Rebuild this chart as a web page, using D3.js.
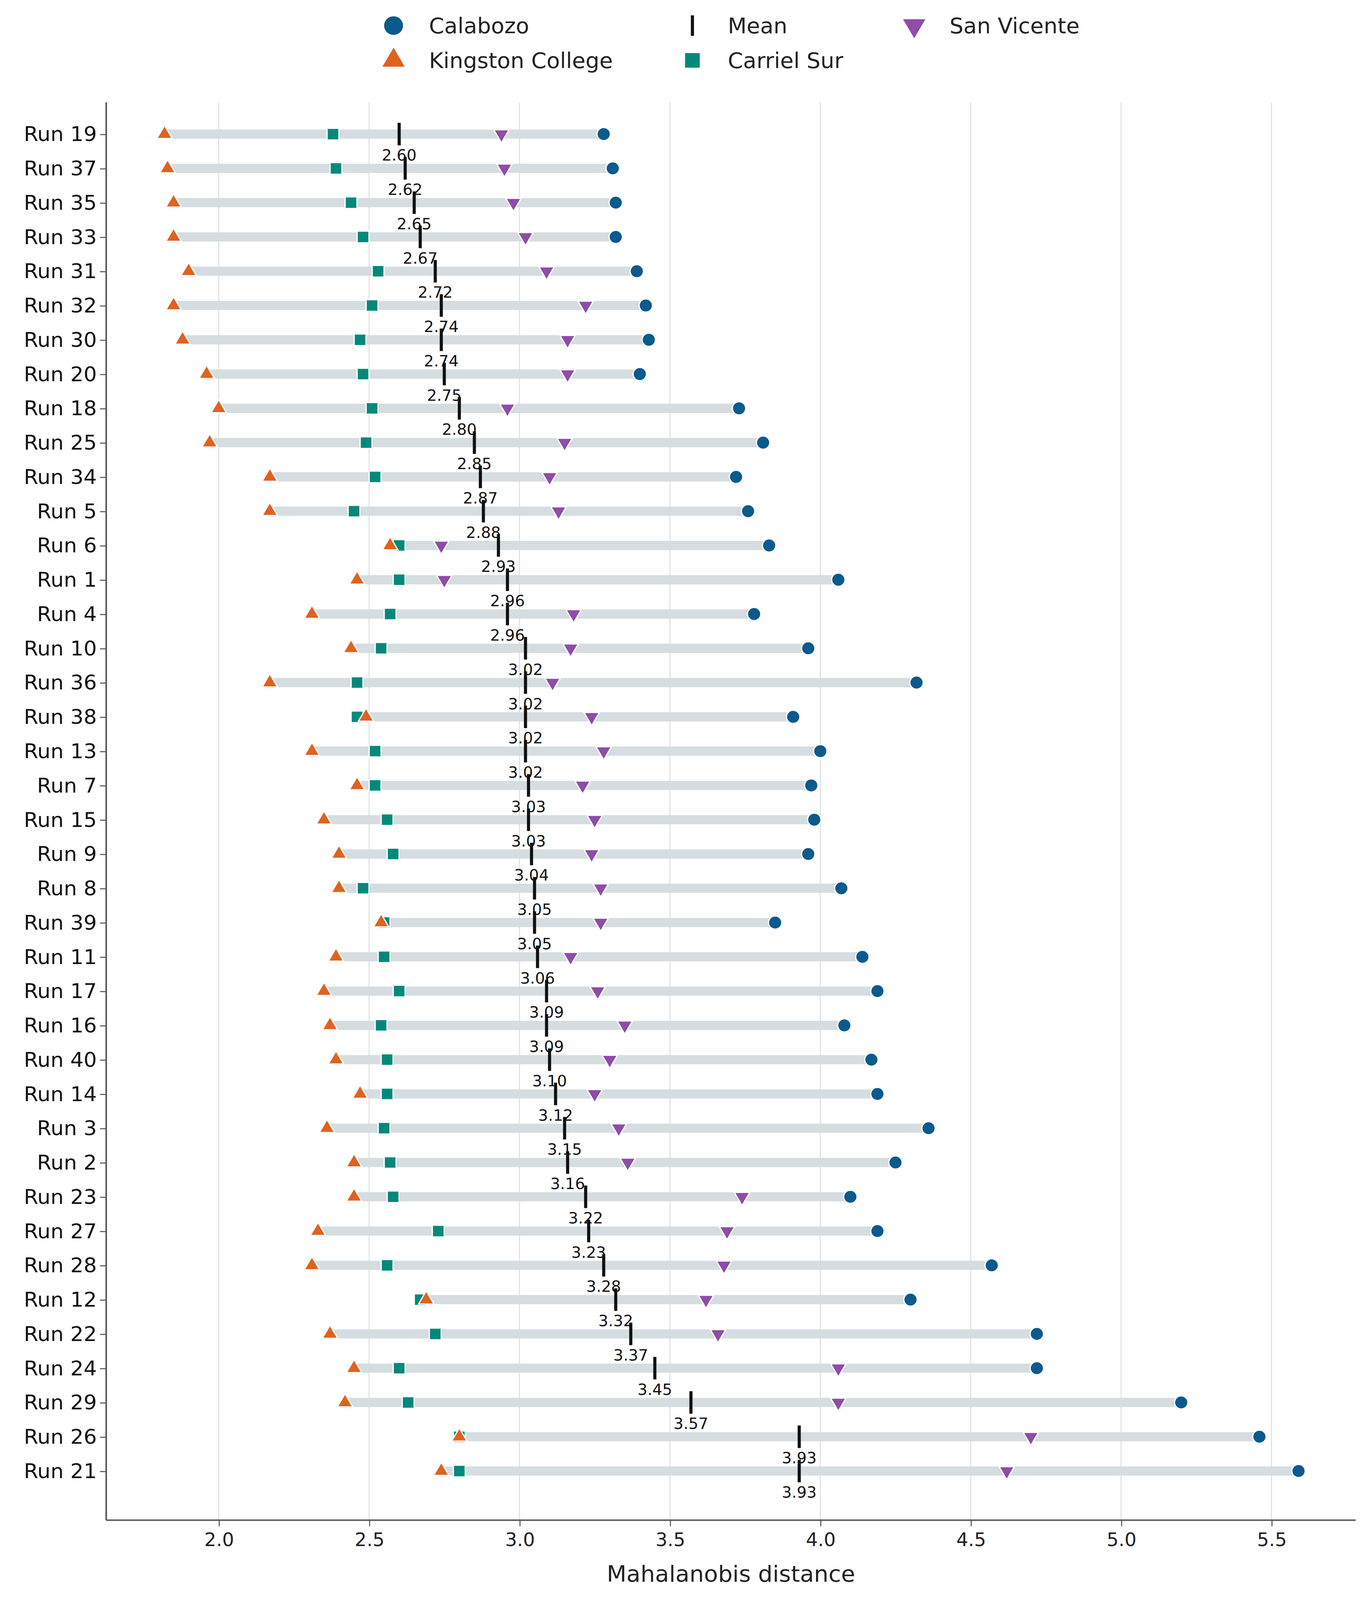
<!DOCTYPE html>
<html><head><meta charset="utf-8">
<script src="https://cdn.jsdelivr.net/npm/d3@7"></script>
<style>html,body{margin:0;background:#fff;overflow:hidden}svg{display:block;font-family:"DejaVu Sans",sans-serif;width:100vw;height:100vh}</style>
</head><body><div id="chart"></div>
<script>
var runs = ['Run 19','Run 37','Run 35','Run 33','Run 31','Run 32','Run 30','Run 20','Run 18','Run 25','Run 34','Run 5','Run 6','Run 1','Run 4','Run 10','Run 36','Run 38','Run 13','Run 7','Run 15','Run 9','Run 8','Run 39','Run 11','Run 17','Run 16','Run 40','Run 14','Run 3','Run 2','Run 23','Run 27','Run 28','Run 12','Run 22','Run 24','Run 29','Run 26','Run 21'];
var kingston = [1.82,1.83,1.85,1.85,1.90,1.85,1.88,1.96,2.00,1.97,2.17,2.17,2.57,2.46,2.31,2.44,2.17,2.49,2.31,2.46,2.35,2.40,2.40,2.54,2.39,2.35,2.37,2.39,2.47,2.36,2.45,2.45,2.33,2.31,2.69,2.37,2.45,2.42,2.80,2.74];
var carriel = [2.38,2.39,2.44,2.48,2.53,2.51,2.47,2.48,2.51,2.49,2.52,2.45,2.60,2.60,2.57,2.54,2.46,2.46,2.52,2.52,2.56,2.58,2.48,2.55,2.55,2.60,2.54,2.56,2.56,2.55,2.57,2.58,2.73,2.56,2.67,2.72,2.60,2.63,2.80,2.80];
var sanVicente = [2.94,2.95,2.98,3.02,3.09,3.22,3.16,3.16,2.96,3.15,3.10,3.13,2.74,2.75,3.18,3.17,3.11,3.24,3.28,3.21,3.25,3.24,3.27,3.27,3.17,3.26,3.35,3.30,3.25,3.33,3.36,3.74,3.69,3.68,3.62,3.66,4.06,4.06,4.70,4.62];
var calabozo = [3.28,3.31,3.32,3.32,3.39,3.42,3.43,3.40,3.73,3.81,3.72,3.76,3.83,4.06,3.78,3.96,4.32,3.91,4.00,3.97,3.98,3.96,4.07,3.85,4.14,4.19,4.08,4.17,4.19,4.36,4.25,4.10,4.19,4.57,4.30,4.72,4.72,5.20,5.46,5.59];
var means = [2.60,2.62,2.65,2.67,2.72,2.74,2.74,2.75,2.80,2.85,2.87,2.88,2.93,2.96,2.96,3.02,3.02,3.02,3.02,3.03,3.03,3.04,3.05,3.05,3.06,3.09,3.09,3.10,3.12,3.15,3.16,3.22,3.23,3.28,3.32,3.37,3.45,3.57,3.93,3.93];
var xTicks = [2.0,2.5,3.0,3.5,4.0,4.5,5.0,5.5];

var C = {cal:'#0b5a8e', king:'#e0621f', car:'#00897a', sv:'#8d4da8', bar:'#d5dde1'};
var W = 1310, H = 1563;
var svg = d3.select('#chart').append('svg')
  .attr('viewBox', '0 0 ' + W + ' ' + H).attr('preserveAspectRatio', 'none');

var x = d3.scaleLinear().domain([1.626, 5.78]).range([102, 1302]);
var y = d3.scalePoint().domain(runs).range([131, 1437]);

// grid
svg.append('g').selectAll('line').data(xTicks).join('line')
  .attr('x1', x).attr('x2', x).attr('y1', 100).attr('y2', 1485)
  .attr('stroke', '#dde0e3').attr('stroke-width', 1);

// axes
var xa = svg.append('g').attr('transform', 'translate(0,1485)')
  .call(d3.axisBottom(x).tickValues(xTicks).tickFormat(d3.format('.1f')).tickSize(6));
xa.selectAll('text').attr('font-size', 18).attr('fill', '#222').attr('dy', '0.9em');
var ya = svg.append('g').attr('transform', 'translate(102,0)')
  .call(d3.axisLeft(y).tickSize(6));
ya.selectAll('text').attr('font-size', 20).attr('fill', '#111');
[xa, ya].forEach(function(a) {
  a.attr('font-family', '"DejaVu Sans", sans-serif');
  a.select('.domain').attr('stroke', '#555').attr('stroke-width', 1.5);
  a.selectAll('.tick line').attr('stroke', '#555');
});
xa.select('.domain').attr('d', 'M102,0H1302');
ya.select('.domain').attr('d', 'M0,100V1485');
svg.append('text').attr('x', 702).attr('y', 1545).attr('text-anchor', 'middle')
  .attr('font-size', 22).attr('fill', '#222').text('Mahalanobis distance');

var rows = runs.map(function(r, i) {
  var v = [kingston[i], carriel[i], sanVicente[i], calabozo[i]];
  return {run: r, min: d3.min(v), max: d3.max(v), k: kingston[i], c: carriel[i], sv: sanVicente[i], cal: calabozo[i], m: means[i]};
});

svg.append('g').selectAll('line').data(rows).join('line')
  .attr('x1', function(d) { return x(d.min); }).attr('x2', function(d) { return x(d.max); })
  .attr('y1', function(d) { return y(d.run); }).attr('y2', function(d) { return y(d.run); })
  .attr('stroke', C.bar).attr('stroke-width', 9);

var sym = {
  cal: d3.symbol().type(d3.symbolCircle).size(130),
  king: d3.symbol().type(d3.symbolTriangle).size(95),
  car: d3.symbol().type(d3.symbolSquare).size(130),
  sv: d3.symbol().type(d3.symbolTriangle).size(95)
};
function marks(key, field, rot) {
  svg.append('g').selectAll('path').data(rows).join('path')
    .attr('d', sym[key])
    .attr('transform', function(d) { return 'translate(' + x(d[field]) + ',' + y(d.run) + ')' + (rot ? ' rotate(180)' : ''); })
    .attr('fill', C[key]).attr('stroke', '#fff').attr('stroke-width', 1.2);
}
marks('car', 'c'); marks('king', 'k'); marks('sv', 'sv', true); marks('cal', 'cal');

var mg = svg.append('g');
mg.selectAll('line').data(rows).join('line')
  .attr('x1', function(d) { return x(d.m); }).attr('x2', function(d) { return x(d.m); })
  .attr('y1', function(d) { return y(d.run) - 11; }).attr('y2', function(d) { return y(d.run) + 11; })
  .attr('stroke', '#111').attr('stroke-width', 3);
mg.selectAll('text').data(rows).join('text')
  .attr('x', function(d) { return x(d.m); }).attr('y', function(d) { return y(d.run) + 26; })
  .attr('text-anchor', 'middle').attr('font-size', 15).attr('fill', '#111')
  .text(function(d) { return d.m.toFixed(2); });

// legend
var legend = [
  {k: 'cal', label: 'Calabozo', x: 378, y: 25},
  {k: 'mean', label: 'Mean', x: 665, y: 25},
  {k: 'sv', label: 'San Vicente', x: 878, y: 25},
  {k: 'king', label: 'Kingston College', x: 378, y: 59},
  {k: 'car', label: 'Carriel Sur', x: 665, y: 59}
];
var lg = svg.append('g').selectAll('g').data(legend).join('g')
  .attr('transform', function(d) { return 'translate(' + d.x + ',' + d.y + ')'; });
lg.each(function(d) {
  var g = d3.select(this);
  if (d.k === 'mean') {
    g.append('line').attr('y1', -10).attr('y2', 10).attr('stroke', '#111').attr('stroke-width', 3);
  } else {
    g.append('path').attr('d', d3.symbol().type(d.k === 'cal' ? d3.symbolCircle : d.k === 'car' ? d3.symbolSquare : d3.symbolTriangle).size(d.k === 'cal' ? 260 : 200))
      .attr('transform', d.k === 'sv' ? 'rotate(180)' : null).attr('fill', C[d.k]);
  }
  g.append('text').attr('x', 34).attr('dy', '0.35em').attr('font-size', 21).attr('fill', '#222').text(d.label);
});
</script></body></html>
